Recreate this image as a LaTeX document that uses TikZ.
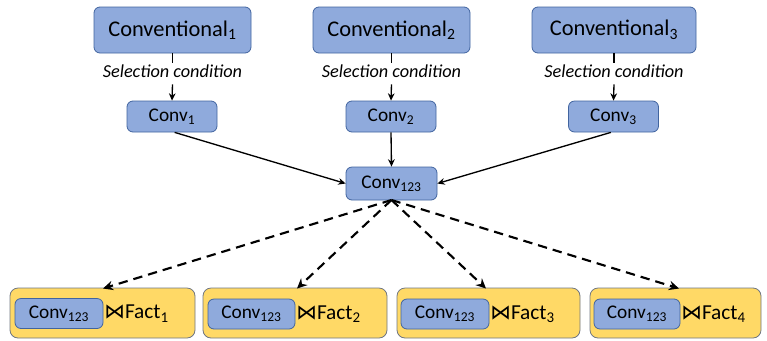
\documentclass[tikz,border=0pt]{standalone}
\usepackage{fontspec}
\setmainfont{Carlito}
\newfontfamily\djv{DejaVu Sans}
\usetikzlibrary{arrows.meta}
\definecolor{bfill}{HTML}{8FAADC}
\definecolor{bdraw}{HTML}{41649F}
\definecolor{yfill}{HTML}{FFD966}
\definecolor{ydraw}{HTML}{6F7682}
\begin{document}
\begin{tikzpicture}[x=0.75pt,y=-0.75pt,
  bbox/.style n args={2}{draw=bdraw,fill=bfill,line width=0.6pt,rounded corners=4.5pt,
     minimum width=#1*0.75pt,minimum height=#2*0.75pt,inner sep=0pt},
  ybox/.style n args={2}{draw=ydraw,fill=yfill,line width=0.6pt,rounded corners=6pt,
     minimum width=#1*0.75pt,minimum height=#2*0.75pt,inner sep=0pt},
  big/.style={font=\fontsize{16.8}{18}\selectfont},
  small/.style={font=\fontsize{14.5}{16}\selectfont},
  sel/.style={font=\fontsize{13.7}{15}\selectfont\itshape,inner sep=0pt},
  fact/.style={font=\fontsize{16}{18}\selectfont,inner sep=0pt,anchor=west},
  arr/.style={-{Stealth[length=5.5pt,width=5pt]},line width=1pt},
  darr/.style={-{Stealth[length=7.5pt,width=7pt]},line width=1.6pt,dash pattern=on 7pt off 4.5pt}
]
\useasboundingbox (0,0) rectangle (767,340);
% top boxes
\node[bbox={157}{46},big] (C1) at (172.5,30) {Conventional\textsubscript{1}};
\node[bbox={157}{46},big] (C2) at (391.5,30) {Conventional\textsubscript{2}};
\node[bbox={164}{46},big] (C3) at (614,30) {Conventional\textsubscript{3}};
\node[sel] (S1) at (172.5,71) {Selection condition};
\node[sel] (S2) at (391.5,71) {Selection condition};
\node[sel] (S3) at (614,71) {Selection condition};
\node[bbox={90}{31},small] (V1) at (172,116.5) {Conv\textsubscript{1}};
\node[bbox={90}{31},small] (V2) at (391,116.5) {Conv\textsubscript{2}};
\node[bbox={90}{31},small] (V3) at (613.5,116.5) {Conv\textsubscript{3}};
\foreach \i in {1,2,3}{
  \draw[line width=1pt] (C\i.south) -- ([yshift=1pt]S\i.north);
  \draw[arr] ([yshift=-5pt]S\i.south) -- (V\i.north);
}
% middle
\node[bbox={91}{33},small] (V123) at (391.5,183.5) {Conv\textsubscript{123}};
\draw[arr] ([xshift=2pt]V1.south) -- (V123.west);
\draw[arr] (V2.south) -- (V123.north);
\draw[arr] ([xshift=-2pt]V3.south) -- (V123.east);
% bottom boxes
\node[ybox={185}{50}] (Y1) at (102.5,313) {};
\node[ybox={184}{50}] (Y2) at (295,313) {};
\node[ybox={183}{50}] (Y3) at (488.5,313) {};
\node[ybox={171}{50}] (Y4) at (675.5,313) {};
\node[bbox={88}{30},small] (I1) at (59,313.5) {Conv\textsubscript{123}};
\node[bbox={87}{30},small] (I2) at (251.5,314) {Conv\textsubscript{123}};
\node[bbox={88}{30},small] (I3) at (445,314) {Conv\textsubscript{123}};
\node[bbox={86}{30},small] (I4) at (637,314) {Conv\textsubscript{123}};
\foreach \i in {1,2,3,4}{
  \node[fact] (F\i) at ([xshift=0.5]I\i.east) {{\djv\fontsize{15.5}{17}\selectfont ⋈}Fact\textsubscript{\i}};
}
\coordinate (O) at (391.5,200);
\draw[darr] (O) -- (103,288.5);
\draw[darr] (O) -- (297,288.5);
\draw[darr] (O) -- (486,288.5);
\draw[darr] (O) -- (679,288.5);
\end{tikzpicture}
\end{document}
